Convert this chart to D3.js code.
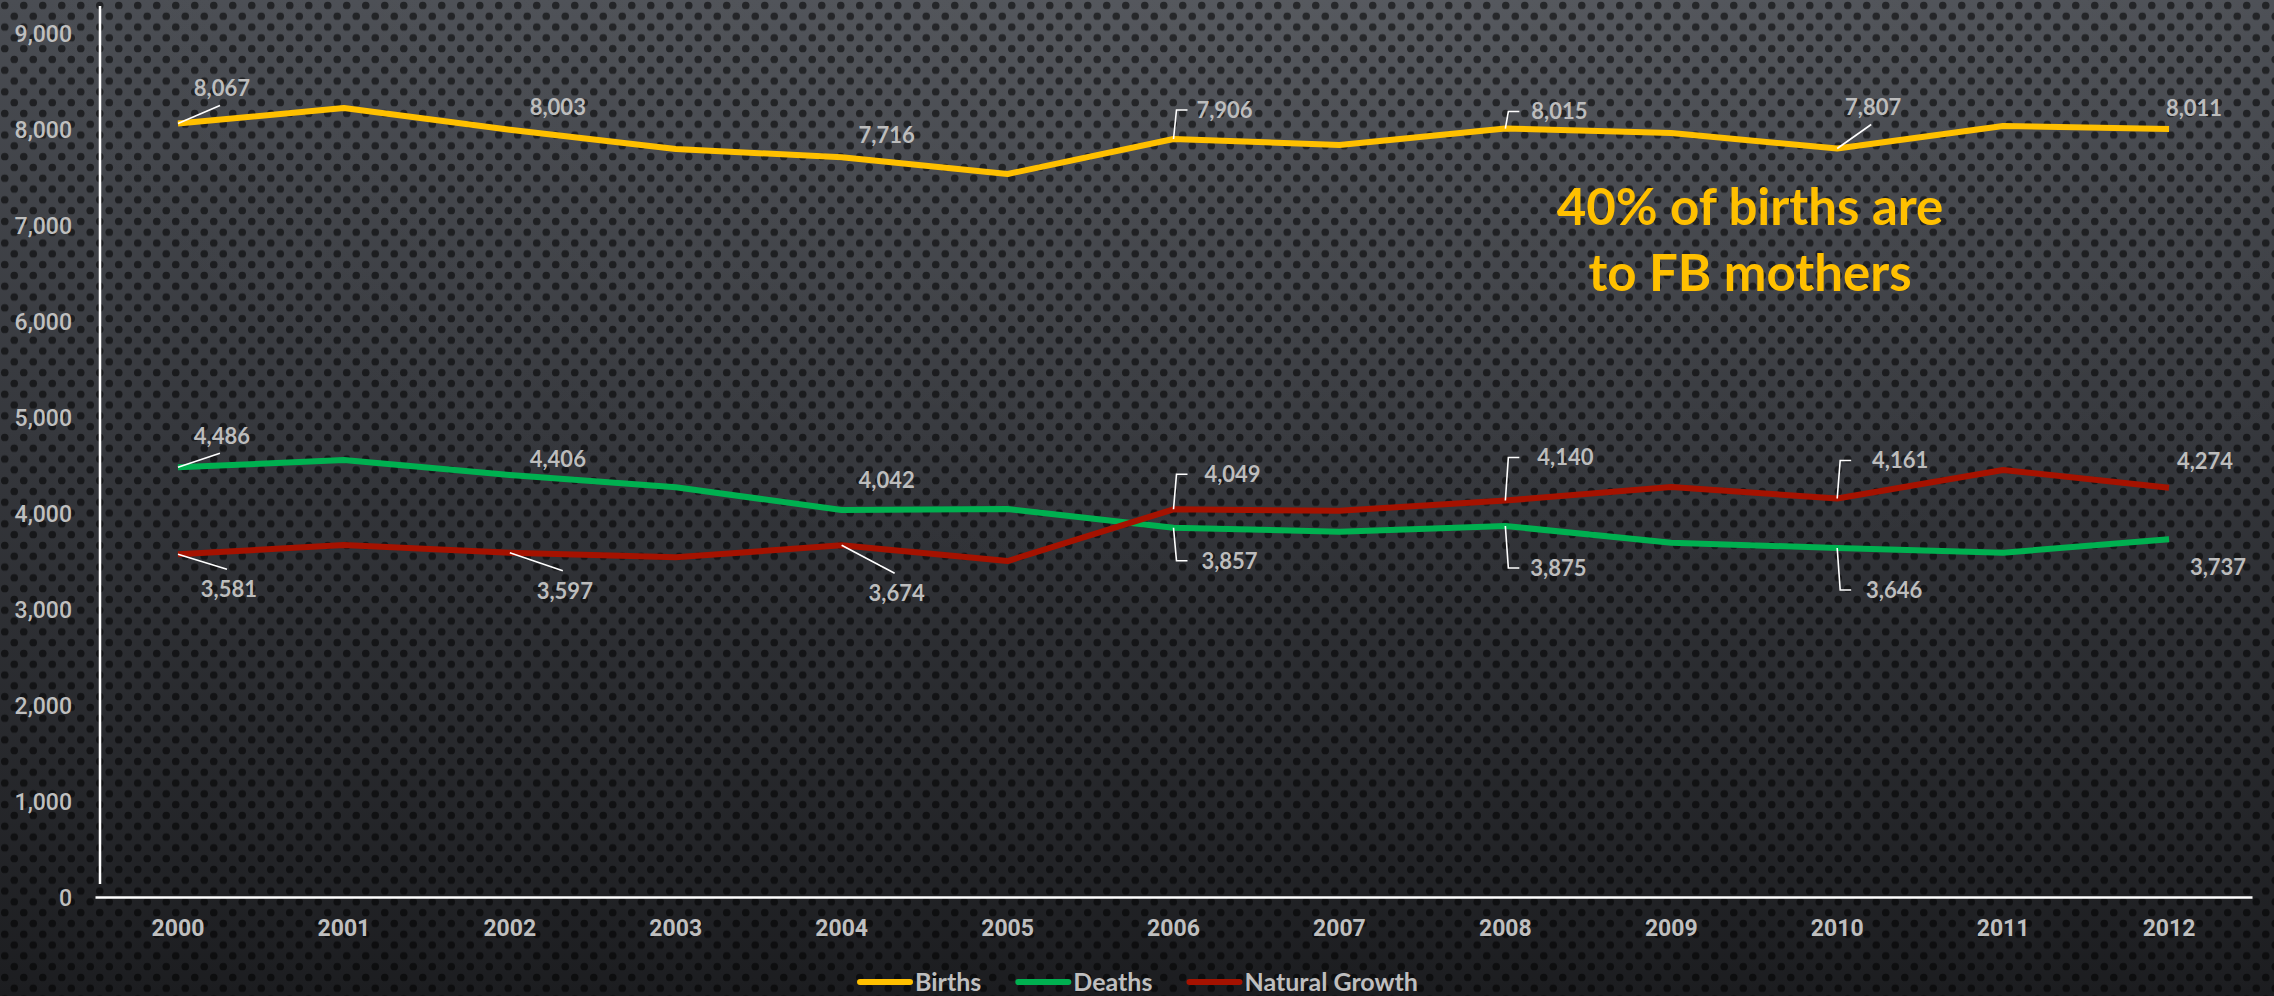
<!DOCTYPE html>
<html>
<head>
<meta charset="utf-8">
<script src="https://cdn.jsdelivr.net/npm/d3@7"></script>
<style>
  body { margin: 0; background: #1c1d20; }
  svg { display: block; }
  .tick text { fill: #bfbfbf; }
  .dlabel { fill: #bdbdbd; font-family: Lato, 'Noto Sans', sans-serif; font-size: 22px; font-weight: 700; }
  .legend text { fill: #bfbfbf; font-family: Lato, 'Noto Sans', sans-serif; font-size: 25px; font-weight: 700; }
</style>
</head>
<body>
<svg width="2274" height="996"></svg>
<script>
// data
const years = [2000, 2001, 2002, 2003, 2004, 2005, 2006, 2007, 2008, 2009, 2010, 2011, 2012]
const births = [8067, 8229, 8003, 7802, 7716, 7542, 7906, 7844, 8015, 7969, 7807, 8042, 8011]
const deaths = [4486, 4562, 4406, 4278, 4042, 4052, 3857, 3815, 3875, 3701, 3646, 3597, 3737]
const growth = [3581, 3677, 3597, 3549, 3674, 3510, 4049, 4034, 4140, 4281, 4161, 4458, 4274]
const labelYears = [2000, 2002, 2004, 2006, 2008, 2010, 2012]
const yTicks = [0, 1000, 2000, 3000, 4000, 5000, 6000, 7000, 8000, 9000]
const seriesNames = ['Births', 'Deaths', 'Natural Growth']
const seriesColors = ['#ffc000', '#00b050', '#a51200']
const note = ['40% of births are', 'to FB mothers']

// where each data label sits relative to its point, and what leader it gets
const labelLayout = [
  [[44, -35, 'diag'], [48, -23, ''], [45, -22, ''], [51, -29, 'elbow'], [54, -17, 'elbow'], [36, -41, 'diag'], [25, -21, '']],
  [[44, -31, 'diag'], [48, -16, ''], [45, -30, ''], [56, 33, 'elbow'], [53, 42, 'elbow'], [57, 42, 'elbow'], [49, 28, '']],
  [[51, 35, 'diag'], [55, 38, 'diag'], [55, 48, 'diag'], [59, -35, 'elbow'], [60, -43, 'elbow'], [63, -38, 'elbow'], [36, -27, '']]
]

const svg = d3.select('svg')
const W = 2274, H = 996

// background: dark gradient with a perforated dot pattern
const defs = svg.append('defs')

const bg = defs.append('linearGradient')
  .attr('id', 'bg')
  .attr('x1', 0).attr('y1', 0).attr('x2', 0).attr('y2', 1)
bg.append('stop').attr('offset', '0%').attr('stop-color', '#4a4d53')
bg.append('stop').attr('offset', '45%').attr('stop-color', '#35373c')
bg.append('stop').attr('offset', '100%').attr('stop-color', '#1c1d20')

const glow = defs.append('radialGradient')
  .attr('id', 'glow')
  .attr('cx', 0.6).attr('cy', 0).attr('r', 0.6)
glow.append('stop').attr('offset', '0%').attr('stop-color', '#ffffff').attr('stop-opacity', 0.07)
glow.append('stop').attr('offset', '100%').attr('stop-color', '#ffffff').attr('stop-opacity', 0)

const dots = defs.append('pattern')
  .attr('id', 'dots')
  .attr('patternUnits', 'userSpaceOnUse')
  .attr('width', 19)
  .attr('height', 21.6)
dots.selectAll('circle')
  .data([[4.75, 5.4], [14.25, 16.2]])
  .enter()
  .append('circle')
  .attr('cx', d => d[0])
  .attr('cy', d => d[1])
  .attr('r', 3.8)
  .attr('fill', '#000')
  .attr('fill-opacity', 0.55)

svg.append('rect').attr('width', W).attr('height', H).attr('fill', 'url(#bg)')
svg.append('rect').attr('width', W).attr('height', H).attr('fill', 'url(#glow)')
svg.append('rect').attr('width', W).attr('height', H).attr('fill', 'url(#dots)')

// scales
const x = d3.scaleBand().domain(years).range([95, 2252])
const y = d3.scaleLinear().domain([0, 9000]).range([898, 34])
const cx = d => x(d) + x.bandwidth() / 2

// y axis labels
svg.append('g')
  .attr('transform', 'translate(100,0)')
  .call(d3.axisLeft(y).tickValues(yTicks).tickSize(0).tickPadding(28).tickFormat(d3.format(',')))
  .call(g => g.select('.domain').remove())
  .selectAll('text')
  .style('font-family', 'Roboto, sans-serif')
  .style('font-size', '23px')
  .style('font-weight', 500)

svg.append('line')
  .attr('x1', 100).attr('x2', 100)
  .attr('y1', 6).attr('y2', 884)
  .attr('stroke', '#fff')
  .attr('stroke-width', 2.5)

// x axis
svg.append('g')
  .attr('transform', 'translate(0,897)')
  .call(d3.axisBottom(x).tickSize(0).tickSizeOuter(0).tickPadding(23))
  .call(g => g.select('.domain').attr('stroke', '#fff').attr('stroke-width', 2.5))
  .selectAll('text')
  .style('font-family', 'Roboto, sans-serif')
  .style('font-size', '23px')
  .style('font-weight', 700)

// lines
const allSeries = [births, deaths, growth]
const line = d3.line()
  .x((d, i) => cx(years[i]))
  .y(d => y(d))

svg.selectAll('.series')
  .data(allSeries)
  .enter()
  .append('path')
  .attr('class', 'series')
  .attr('d', d => line(d))
  .attr('fill', 'none')
  .attr('stroke', (d, i) => seriesColors[i])
  .attr('stroke-width', 6)
  .attr('stroke-linejoin', 'round')

// data labels and their leader lines
const labels = []
allSeries.forEach((vals, s) => {
  labelYears.forEach((yr, k) => {
    const i = years.indexOf(yr)
    const [dx, dy, leader] = labelLayout[s][k]
    const px = cx(yr), py = y(vals[i])
    labels.push({px, py, lx: px + dx, ly: py + dy, leader, value: vals[i]})
  })
})

svg.selectAll('.leader')
  .data(labels.filter(d => d.leader))
  .enter()
  .append('path')
  .attr('class', 'leader')
  .attr('fill', 'none')
  .attr('stroke', '#fff')
  .attr('stroke-width', 1.6)
  .attr('d', d => {
    if (d.leader === 'elbow') {
      return `M${d.px},${d.py}L${d.px + 3},${d.ly}L${d.px + 14},${d.ly}`
    }
    const ey = d.ly < d.py ? d.ly + 17 : d.ly - 20
    return `M${d.px},${d.py}L${d.lx - 2},${ey}`
  })

svg.selectAll('.dlabel')
  .data(labels)
  .enter()
  .append('text')
  .attr('class', 'dlabel')
  .attr('x', d => d.lx)
  .attr('y', d => d.ly)
  .attr('dy', '0.36em')
  .attr('text-anchor', 'middle')
  .text(d => d3.format(',')(d.value))

// annotation
svg.append('text')
  .attr('x', 1750)
  .attr('y', 225)
  .attr('text-anchor', 'middle')
  .attr('fill', '#ffc000')
  .style('font-family', 'Lato, sans-serif')
  .style('font-size', '51px')
  .style('font-weight', 700)
  .selectAll('tspan')
  .data(note)
  .enter()
  .append('tspan')
  .attr('x', 1750)
  .attr('dy', (d, i) => i === 0 ? 0 : 66)
  .text(d => d)

// legend, centred under the chart
const legend = svg.append('g').attr('class', 'legend')
const items = legend.selectAll('g')
  .data(seriesNames)
  .enter()
  .append('g')

items.append('line')
  .attr('x1', 0).attr('x2', 50)
  .attr('y1', 0).attr('y2', 0)
  .attr('stroke', (d, i) => seriesColors[i])
  .attr('stroke-width', 6)
  .attr('stroke-linecap', 'round')

items.append('text')
  .attr('x', 55)
  .attr('dy', '0.36em')
  .text(d => d)

let offset = 0
items.each(function () {
  const w = 55 + this.querySelector('text').getComputedTextLength()
  d3.select(this).attr('transform', `translate(${offset},0)`)
  offset += w + 37
})
offset -= 37
legend.attr('transform', `translate(${1139 - offset / 2},982)`)
</script>
</body>
</html>
